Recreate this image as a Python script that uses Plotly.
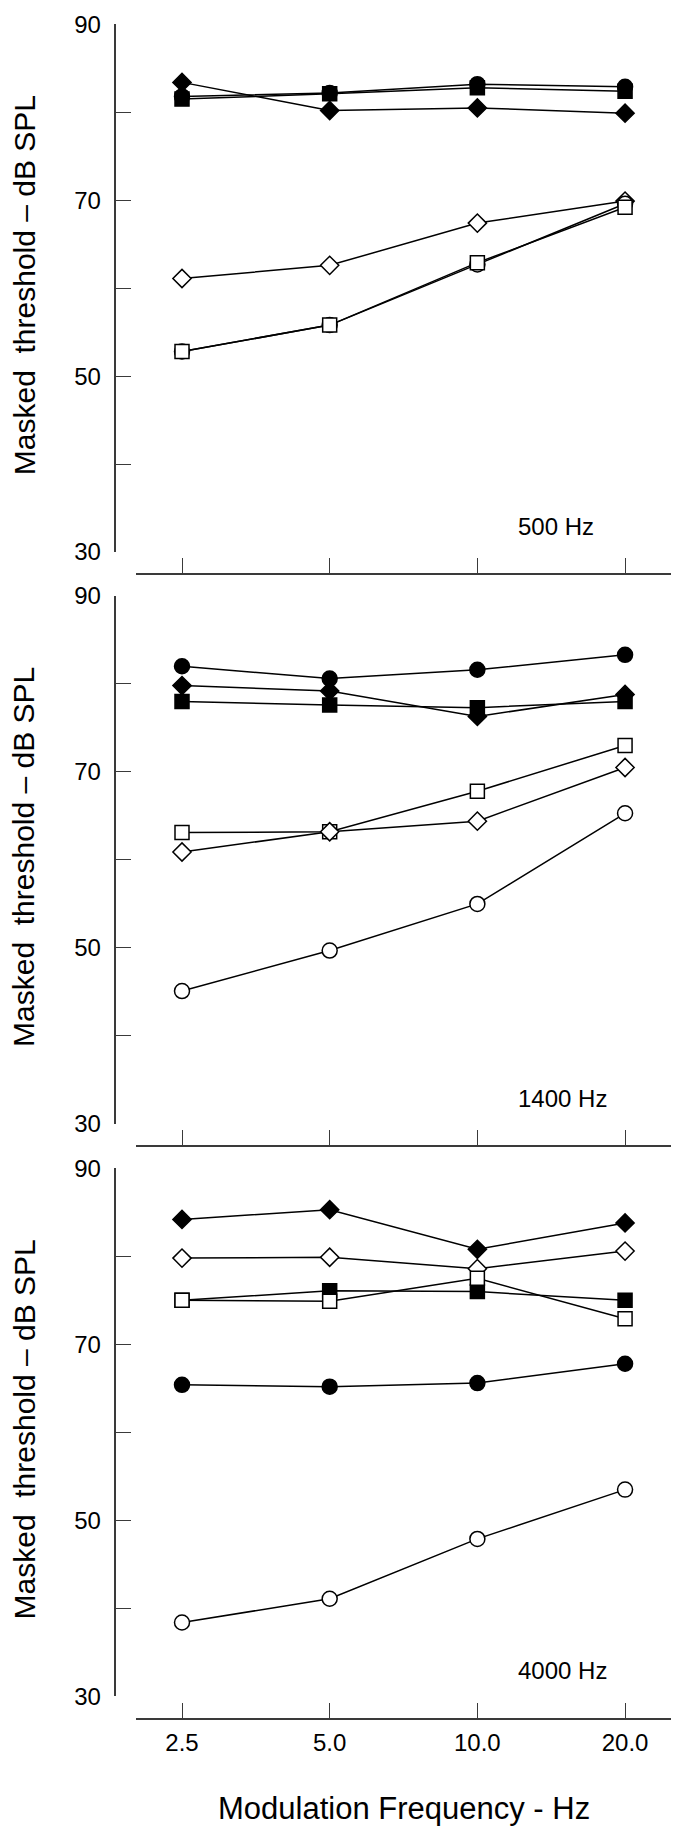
import plotly.graph_objects as go

W, H = 677, 1842

freqs = [2.5, 5.0, 10.0, 20.0]
freq_labels = ["2.5", "5.0", "10.0", "20.0"]
y_tickvals = [30, 40, 50, 60, 70, 80, 90]
y_ticktext = ["30", "", "50", "", "70", "", "90"]
panel_labels = ["500 Hz", "1400 Hz", "4000 Hz"]

# Panel 1 (500 Hz)
p1_filled_circle = [81.8, 82.2, 83.2, 82.9]
p1_filled_square = [81.5, 82.1, 82.8, 82.4]
p1_filled_diamond = [83.4, 80.2, 80.5, 79.9]
p1_open_diamond = [61.1, 62.6, 67.4, 69.9]
p1_open_square = [52.8, 55.8, 62.9, 69.2]
p1_open_circle = [52.8, 55.8, 62.7, 69.6]

# Panel 2 (1400 Hz)
p2_filled_circle = [82.0, 80.6, 81.6, 83.3]
p2_filled_diamond = [79.8, 79.2, 76.3, 78.8]
p2_filled_square = [78.0, 77.6, 77.3, 78.0]
p2_open_square = [63.1, 63.2, 67.8, 73.0]
p2_open_diamond = [60.9, 63.2, 64.4, 70.5]
p2_open_circle = [45.1, 49.7, 55.0, 65.3]

# Panel 3 (4000 Hz)
p3_filled_diamond = [84.2, 85.3, 80.8, 83.8]
p3_open_diamond = [79.8, 79.9, 78.6, 80.6]
p3_filled_square = [75.0, 76.1, 76.0, 75.0]
p3_open_square = [75.0, 74.9, 77.5, 72.9]
p3_filled_circle = [65.4, 65.2, 65.6, 67.8]
p3_open_circle = [38.4, 41.1, 47.9, 53.5]

panels = [
    [("circle", True, p1_filled_circle), ("square", True, p1_filled_square),
     ("diamond", True, p1_filled_diamond), ("diamond", False, p1_open_diamond),
     ("circle", False, p1_open_circle), ("square", False, p1_open_square)],
    [("circle", True, p2_filled_circle), ("square", True, p2_filled_square),
     ("diamond", True, p2_filled_diamond), ("square", False, p2_open_square),
     ("diamond", False, p2_open_diamond), ("circle", False, p2_open_circle)],
    [("diamond", True, p3_filled_diamond), ("diamond", False, p3_open_diamond),
     ("square", True, p3_filled_square), ("square", False, p3_open_square),
     ("circle", True, p3_filled_circle), ("circle", False, p3_open_circle)],
]

size_map = {"circle": 15, "square": 14, "diamond": 14}

FONT = "Liberation Sans, Arial, Helvetica, sans-serif"
AX = "#3a3a3a"

def py(px):
    return 1 - px / H

# pixel geometry: (y=90 tick, y=30 tick, x-axis line)
geom = [(10.5, 546, 568.5), (590.5, 1126.5, 1149), (1171.5, 1707.5, 1730)]
x_left, x_right = 136, 671
y_axis_x = 114.5
xr0 = 0.30418
xr1 = 1.39468

fig = go.Figure()
layout = dict(
    width=W, height=H, margin=dict(l=0, r=0, t=0, b=0),
    paper_bgcolor="white", plot_bgcolor="white", showlegend=False,
    font=dict(family=FONT, color="black"),
)
annotations = []
for i, series in enumerate(panels):
    k = "" if i == 0 else str(i + 1)
    for sym, filled, vals in series:
        fig.add_trace(go.Scatter(
            x=freqs, y=vals, mode="lines+markers",
            xaxis="x" + k, yaxis="y" + k,
            line=dict(color="black", width=1.5),
            marker=dict(symbol=sym, size=size_map[sym],
                        color="black" if filled else "white",
                        line=dict(color="black", width=1.5)),
            cliponaxis=False,
        ))
    top, bot, xl = geom[i]
    layout["xaxis" + k] = dict(
        type="log", range=[xr0, xr1], domain=[x_left / W, x_right / W],
        anchor="free", position=py(xl),
        showline=True, linecolor=AX, linewidth=1.5,
        ticks="inside", ticklen=15, tickcolor=AX, tickwidth=1,
        tickvals=freqs, ticktext=freq_labels,
        showticklabels=(i == 2), tickfont=dict(size=24, family=FONT, color="black"),
        showgrid=False, zeroline=False, ticklabelstandoff=3,
    )
    layout["yaxis" + k] = dict(
        range=[30, 90], domain=[py(bot), py(top)],
        anchor="free", position=y_axis_x / W,
        showline=True, linecolor=AX, linewidth=1.5,
        ticks="inside", ticklen=16, tickcolor=AX, tickwidth=1,
        tickvals=y_tickvals, ticktext=y_ticktext,
        tickfont=dict(size=24, family=FONT, color="black"),
        showgrid=False, zeroline=False, ticklabelstandoff=8,
    )
    annotations.append(dict(
        text="Masked\u00a0 threshold \u2013 dB SPL", textangle=-90,
        x=24 / W, y=py((top + bot) / 2 - 3), xref="paper", yref="paper",
        xanchor="center", yanchor="middle", showarrow=False,
        font=dict(size=30, family=FONT, color="black"),
    ))
    annotations.append(dict(
        text=panel_labels[i], x=516 / W, y=py(top + 510), xref="paper", yref="paper",
        xanchor="left", yanchor="middle", showarrow=False,
        font=dict(size=24, family=FONT, color="black"),
    ))

annotations.append(dict(
    text="Modulation Frequency - Hz", x=403.5 / W, y=py(1821),
    xref="paper", yref="paper", xanchor="center", yanchor="middle", showarrow=False,
    font=dict(size=31, family=FONT, color="black"),
))
layout["annotations"] = annotations
fig.update_layout(**layout)
fig.write_html(
    "out.html",
    config={"displayModeBar": False},
    post_script="document.body.style.margin='0';document.body.style.padding='0';",
)
